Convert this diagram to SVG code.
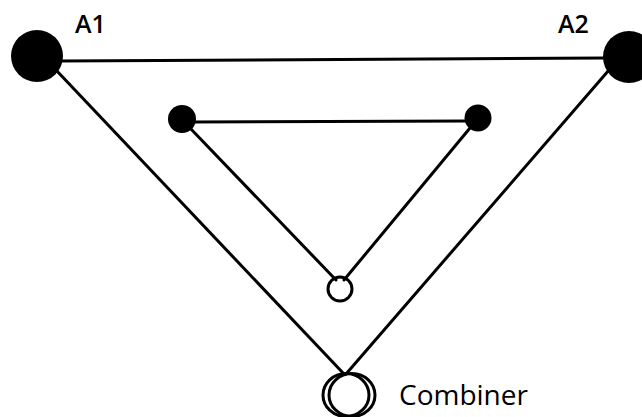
<svg xmlns="http://www.w3.org/2000/svg" width="642" height="417" viewBox="0 0 642 417">
<style>
.ln{stroke:#000;stroke-width:3;fill:none;stroke-linecap:round}
.dot{fill:#000}
.ring{fill:none;stroke:#000;stroke-width:3}
.lbl{font-family:"Open Sans","Noto Sans",sans-serif;fill:#000}
</style>
<rect width="642" height="417" fill="#fff"/>
<g id="connectors">
<line class="ln" x1="60" y1="61" x2="605" y2="58"/>
<line class="ln" x1="56" y1="70" x2="344" y2="374"/>
<line class="ln" x1="609" y1="70" x2="346" y2="374"/>
<line class="ln" x1="192" y1="122" x2="468" y2="121"/>
<line class="ln" x1="190" y1="128" x2="336" y2="280"/>
<line class="ln" x1="470" y1="128" x2="344" y2="280"/>
</g>
<g id="A1">
<circle class="dot" cx="37" cy="56" r="26"/>
<text class="lbl" x="75" y="33" font-size="25" font-weight="600">A1</text>
</g>
<g id="A2">
<circle class="dot" cx="629" cy="57" r="26"/>
<text class="lbl" x="558" y="33" font-size="25" font-weight="600">A2</text>
</g>
<g id="left-small">
<circle class="dot" cx="182" cy="119" r="14"/>
</g>
<g id="right-small">
<circle class="dot" cx="478" cy="118" r="13.5"/>
</g>
<g id="open-small">
<circle class="ring" cx="340" cy="289" r="12" stroke-width="3.5"/>
</g>
<g id="combiner">
<ellipse class="ring" cx="346" cy="395" rx="23" ry="21.5"/>
<ellipse class="ring" cx="352" cy="395" rx="23" ry="21.5"/>
<text class="lbl" x="399" y="405" font-size="28">Combiner</text>
</g>
</svg>
